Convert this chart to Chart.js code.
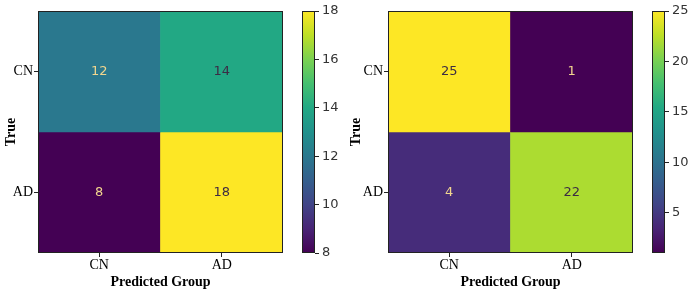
<!DOCTYPE html>
<html>
<head>
<meta charset="utf-8">
<script src="https://cdn.jsdelivr.net/npm/chart.js@4"></script>
<style>
  body { margin: 0; background: #fff; }
  #wrap { position: relative; width: 690px; height: 295px; }
  canvas { position: absolute; top: 0; }
</style>
</head>
<body>
<div id="wrap">
  <canvas id="mat-a" width="290" height="295" style="left:0"></canvas>
  <canvas id="bar-a" width="55" height="295" style="left:290px"></canvas>
  <canvas id="mat-b" width="295" height="295" style="left:345px"></canvas>
  <canvas id="bar-b" width="50" height="295" style="left:640px"></canvas>
</div>
<script>
// rows = true group, columns = predicted group
const trueLabels = ["CN", "AD"];
const predLabels = ["CN", "AD"];
const matrixA = [[12, 14], [8, 18]];
const matrixB = [[25, 1], [4, 22]];
const ticksA = [8, 10, 12, 14, 16, 18];
const ticksB = [5, 10, 15, 20, 25];

const viridis = ["#440154", "#482475", "#414487", "#355f8d", "#2a788e", "#21918c",
                 "#22a884", "#44bf70", "#7ad151", "#bddf26", "#fde725"];

function hex(c) { return [1, 3, 5].map(i => parseInt(c.substr(i, 2), 16)); }

function colorAt(t) {
  t = Math.max(0, Math.min(1, t));
  var p = t * (viridis.length - 1);
  var i = Math.min(Math.floor(p), viridis.length - 2);
  var f = p - i;
  var a = hex(viridis[i]), b = hex(viridis[i + 1]);
  var c = a.map((v, k) => Math.round(v + (b[k] - v) * f));
  return "rgb(" + c.join(",") + ")";
}

const serif = "'Liberation Serif', 'Times New Roman', serif";
const sans = "'DejaVu Sans', sans-serif";
Chart.defaults.animation = false;
Chart.defaults.events = [];
Chart.defaults.plugins.legend.display = false;
Chart.defaults.plugins.tooltip.enabled = false;

const frame = {
  id: "frame",
  afterDraw(chart) {
    const a = chart.chartArea, ctx = chart.ctx;
    ctx.save();
    ctx.strokeStyle = "#222";
    ctx.lineWidth = 1;
    ctx.strokeRect(Math.round(a.left) + 0.5, Math.round(a.top) + 0.5,
                   Math.round(a.right - a.left) - 1, Math.round(a.bottom - a.top) - 1);
    ctx.restore();
  }
};

function drawMatrix(id, matrix, axisWidth) {
  const vals = matrix.flat();
  const lo = Math.min(...vals), hi = Math.max(...vals);
  const n = trueLabels.length;

  const datasets = trueLabels.map((row, r) => ({
    label: row,
    data: predLabels.map(() => [n - r - 1, n - r]),
    backgroundColor: matrix[r].map(v => colorAt((v - lo) / (hi - lo))),
    borderWidth: 0,
    barPercentage: 1,
    categoryPercentage: 1,
    grouped: false
  }));

  const cellText = {
    id: "cellText",
    afterDatasetsDraw(chart) {
      const ctx = chart.ctx;
      ctx.save();
      ctx.font = "13px " + sans;
      ctx.textAlign = "center";
      ctx.textBaseline = "middle";
      chart.data.datasets.forEach((ds, r) => {
        chart.getDatasetMeta(r).data.forEach((bar, c) => {
          const v = matrix[r][c];
          const p = bar.getCenterPoint();
          ctx.fillStyle = (v - lo) / (hi - lo) < 0.5 ? "#f2d68e" : "#3c2c44";
          ctx.fillText(String(v), p.x, p.y);
        });
      });
      ctx.restore();
    }
  };

  const canvas = document.getElementById(id);
  new Chart(canvas, {
    type: "bar",
    data: { labels: predLabels, datasets: datasets },
    options: {
      responsive: false,
      devicePixelRatio: 1,
      layout: { padding: { top: 11, right: 7, left: 0, bottom: 0 } },
      scales: {
        x: {
          grid: { drawOnChartArea: false, tickLength: 4, color: "#222", offset: false },
          border: { display: false },
          ticks: { padding: 0, color: "#000", font: { family: serif, size: 14 } },
          title: { display: true, text: "Predicted Group", color: "#000",
                   font: { family: serif, size: 14, weight: "bold" }, padding: { top: 0, bottom: 4 } },
          afterFit(s) { s.height = 42; }
        },
        y: {
          type: "linear",
          min: 0,
          max: n,
          grid: { drawOnChartArea: false, tickLength: 4, color: "#222" },
          border: { display: false },
          afterBuildTicks(s) { s.ticks = trueLabels.map((l, i) => ({ value: n - i - 0.5 })); },
          ticks: {
            autoSkip: false,
            padding: 1,
            color: "#000",
            font: { family: serif, size: 14 },
            callback: v => trueLabels[n - 1 - Math.floor(v)]
          },
          title: { display: true, text: "True", color: "#000",
                   font: { family: serif, size: 14, weight: "bold" }, padding: { top: 3, bottom: 0 } },
          afterFit(s) { s.width = axisWidth; }
        }
      }
    },
    plugins: [cellText, frame]
  });
}

function drawColorbar(id, matrix, ticks, canvasWidth) {
  const vals = matrix.flat();
  const lo = Math.min(...vals), hi = Math.max(...vals);
  new Chart(document.getElementById(id), {
    type: "bar",
    data: {
      labels: [""],
      datasets: [{
        data: [[lo, hi]],
        borderWidth: 0,
        barPercentage: 1,
        categoryPercentage: 1,
        backgroundColor(c) {
          const a = c.chart.chartArea;
          if (!a) return viridis[0];
          const g = c.chart.ctx.createLinearGradient(0, a.bottom, 0, a.top);
          viridis.forEach((col, i) => g.addColorStop(i / (viridis.length - 1), col));
          return g;
        }
      }]
    },
    options: {
      responsive: false,
      devicePixelRatio: 1,
      layout: { padding: { top: 11, left: 12, right: 0, bottom: 42 } },
      scales: {
        x: { display: false },
        y: {
          position: "right",
          min: lo,
          max: hi,
          grid: { drawOnChartArea: false, tickLength: 4, color: "#222" },
          border: { display: false },
          afterBuildTicks(s) { s.ticks = ticks.map(v => ({ value: v })); },
          ticks: { padding: 3, color: "#333", font: { family: sans, size: 13 } },
          afterFit(s) { s.width = canvasWidth - 12 - 13; }
        }
      }
    },
    plugins: [frame]
  });
}

drawMatrix("mat-a", matrixA, 38);
drawColorbar("bar-a", matrixA, ticksA, 55);
drawMatrix("mat-b", matrixB, 43);
drawColorbar("bar-b", matrixB, ticksB, 50);
</script>
</body>
</html>
